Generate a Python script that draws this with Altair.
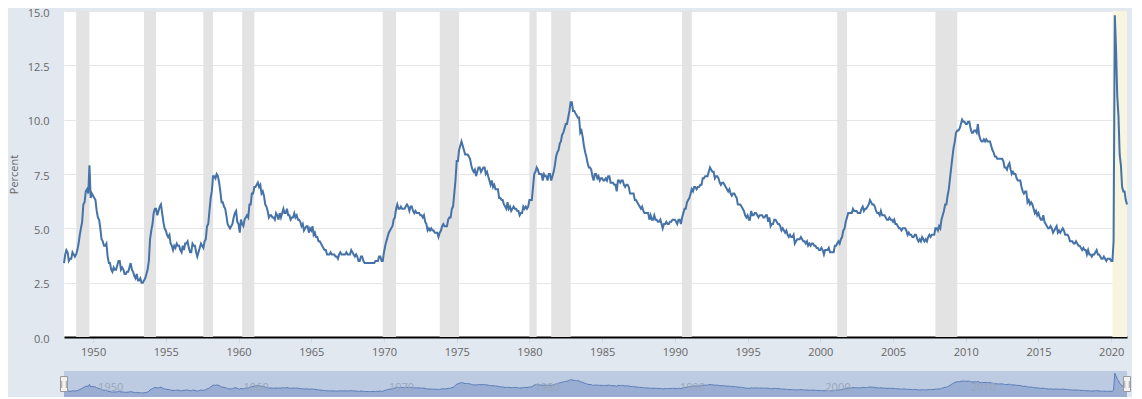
import altair as alt
import pandas as pd

# Monthly unemployment rate (percent), Jan 1948 onward
rate_1948_49 = [
    3.4, 3.8, 4.0, 3.9, 3.5, 3.6, 3.6, 3.9, 3.8, 3.7, 3.8, 4.0,
    4.3, 4.7, 5.0, 5.3, 6.1, 6.2, 6.7, 6.8, 6.6, 7.9, 6.4, 6.6,
]
rate_1950s = [
    6.5, 6.4, 6.3, 5.8, 5.5, 5.4, 5.0, 4.5, 4.4, 4.2, 4.2, 4.3,
    3.7, 3.4, 3.4, 3.1, 3.0, 3.2, 3.1, 3.1, 3.3, 3.5, 3.5, 3.1,
    3.2, 3.1, 2.9, 2.9, 3.0, 3.0, 3.2, 3.4, 3.1, 3.0, 2.8, 2.7,
    2.9, 2.6, 2.6, 2.7, 2.5, 2.5, 2.6, 2.7, 2.9, 3.1, 3.5, 4.5,
    4.9, 5.2, 5.7, 5.9, 5.9, 5.6, 5.8, 6.0, 6.1, 5.7, 5.3, 5.0,
    4.9, 4.7, 4.6, 4.7, 4.3, 4.2, 4.0, 4.2, 4.1, 4.3, 4.2, 4.2,
    4.0, 3.9, 4.2, 4.0, 4.3, 4.3, 4.4, 4.1, 3.9, 3.9, 4.3, 4.2,
    4.2, 3.9, 3.7, 3.9, 4.1, 4.3, 4.2, 4.1, 4.4, 4.5, 5.1, 5.2,
    5.8, 6.4, 6.7, 7.4, 7.4, 7.3, 7.5, 7.4, 7.1, 6.7, 6.2, 6.2,
    6.0, 5.9, 5.6, 5.2, 5.1, 5.0, 5.1, 5.2, 5.5, 5.7, 5.8, 5.3,
]
rate_1960s = [
    5.2, 4.8, 5.4, 5.2, 5.1, 5.4, 5.5, 5.6, 5.5, 6.1, 6.1, 6.6,
    6.6, 6.9, 6.9, 7.0, 7.1, 6.9, 7.0, 6.6, 6.7, 6.5, 6.1, 6.0,
    5.8, 5.5, 5.6, 5.6, 5.5, 5.5, 5.4, 5.7, 5.6, 5.4, 5.7, 5.5,
    5.7, 5.9, 5.7, 5.7, 5.9, 5.6, 5.6, 5.4, 5.5, 5.5, 5.7, 5.5,
    5.6, 5.4, 5.4, 5.3, 5.1, 5.2, 4.9, 5.0, 5.1, 5.1, 4.8, 5.0,
    4.9, 5.1, 4.7, 4.8, 4.6, 4.6, 4.4, 4.4, 4.3, 4.2, 4.1, 4.0,
    4.0, 3.8, 3.8, 3.8, 3.9, 3.8, 3.8, 3.8, 3.7, 3.7, 3.6, 3.8,
    3.9, 3.8, 3.8, 3.8, 3.8, 3.9, 3.8, 3.8, 3.8, 4.0, 3.9, 3.8,
    3.7, 3.8, 3.7, 3.5, 3.5, 3.7, 3.7, 3.5, 3.4, 3.4, 3.4, 3.4,
    3.4, 3.4, 3.4, 3.4, 3.4, 3.5, 3.5, 3.5, 3.7, 3.7, 3.5, 3.5,
]
rate_1970s = [
    3.9, 4.2, 4.4, 4.6, 4.8, 4.9, 5.0, 5.1, 5.4, 5.5, 5.9, 6.1,
    5.9, 5.9, 6.0, 5.9, 5.9, 5.9, 6.0, 6.1, 6.0, 5.8, 6.0, 6.0,
    5.8, 5.7, 5.8, 5.7, 5.7, 5.7, 5.6, 5.6, 5.5, 5.6, 5.3, 5.2,
    4.9, 5.0, 4.9, 5.0, 4.9, 4.9, 4.8, 4.8, 4.8, 4.6, 4.8, 4.9,
    5.1, 5.2, 5.1, 5.1, 5.1, 5.4, 5.5, 5.5, 5.9, 6.0, 6.6, 7.2,
    8.1, 8.1, 8.6, 8.8, 9.0, 8.8, 8.6, 8.4, 8.4, 8.4, 8.3, 8.2,
    7.9, 7.7, 7.6, 7.7, 7.4, 7.6, 7.8, 7.8, 7.6, 7.7, 7.8, 7.8,
    7.5, 7.6, 7.4, 7.2, 7.0, 7.2, 6.9, 7.0, 6.8, 6.8, 6.8, 6.4,
    6.4, 6.3, 6.3, 6.1, 6.0, 5.9, 6.2, 5.9, 6.0, 5.8, 5.9, 6.0,
    5.9, 5.9, 5.8, 5.8, 5.6, 5.7, 5.7, 6.0, 5.9, 6.0, 5.9, 6.0,
]
rate_1980s = [
    6.3, 6.3, 6.3, 6.9, 7.5, 7.6, 7.8, 7.7, 7.5, 7.5, 7.5, 7.2,
    7.5, 7.4, 7.4, 7.2, 7.5, 7.5, 7.2, 7.4, 7.6, 7.9, 8.3, 8.5,
    8.6, 8.9, 9.0, 9.3, 9.4, 9.6, 9.8, 9.8, 10.1, 10.4, 10.8, 10.8,
    10.4, 10.4, 10.3, 10.2, 10.1, 10.1, 9.4, 9.5, 9.2, 8.8, 8.5, 8.3,
    8.0, 7.8, 7.8, 7.7, 7.4, 7.2, 7.5, 7.5, 7.3, 7.4, 7.2, 7.3,
    7.3, 7.2, 7.2, 7.3, 7.2, 7.4, 7.4, 7.1, 7.1, 7.1, 7.0, 7.0,
    6.7, 7.2, 7.2, 7.1, 7.2, 7.2, 7.0, 6.9, 7.0, 7.0, 6.9, 6.6,
    6.6, 6.6, 6.6, 6.3, 6.3, 6.2, 6.1, 6.0, 5.9, 6.0, 5.8, 5.7,
    5.7, 5.7, 5.7, 5.4, 5.6, 5.4, 5.4, 5.6, 5.4, 5.4, 5.3, 5.3,
    5.4, 5.2, 5.0, 5.2, 5.2, 5.3, 5.2, 5.2, 5.3, 5.3, 5.4, 5.4,
]
rate_1990s = [
    5.4, 5.3, 5.2, 5.4, 5.4, 5.2, 5.5, 5.7, 5.9, 5.9, 6.2, 6.3,
    6.4, 6.6, 6.8, 6.7, 6.9, 6.9, 6.8, 6.9, 6.9, 7.0, 7.0, 7.3,
    7.3, 7.4, 7.4, 7.4, 7.6, 7.8, 7.7, 7.6, 7.6, 7.3, 7.4, 7.4,
    7.3, 7.1, 7.0, 7.1, 7.1, 7.0, 6.9, 6.8, 6.7, 6.8, 6.6, 6.5,
    6.6, 6.6, 6.5, 6.4, 6.1, 6.1, 6.1, 6.0, 5.9, 5.8, 5.6, 5.5,
    5.6, 5.4, 5.4, 5.8, 5.6, 5.6, 5.7, 5.7, 5.6, 5.5, 5.6, 5.6,
    5.6, 5.5, 5.5, 5.6, 5.6, 5.3, 5.5, 5.1, 5.2, 5.2, 5.4, 5.4,
    5.3, 5.2, 5.2, 5.1, 4.9, 5.0, 4.9, 4.8, 4.9, 4.7, 4.6, 4.7,
    4.6, 4.6, 4.7, 4.3, 4.4, 4.5, 4.5, 4.5, 4.6, 4.5, 4.4, 4.4,
    4.3, 4.4, 4.2, 4.3, 4.2, 4.3, 4.3, 4.2, 4.2, 4.1, 4.1, 4.0,
]
rate_2000s = [
    4.0, 4.1, 4.0, 3.8, 4.0, 4.0, 4.0, 4.1, 3.9, 3.9, 3.9, 3.9,
    4.2, 4.2, 4.3, 4.4, 4.3, 4.5, 4.6, 4.9, 5.0, 5.3, 5.5, 5.7,
    5.7, 5.7, 5.7, 5.9, 5.8, 5.8, 5.8, 5.7, 5.7, 5.7, 5.9, 6.0,
    5.8, 5.9, 5.9, 6.0, 6.1, 6.3, 6.2, 6.1, 6.1, 6.0, 5.8, 5.7,
    5.7, 5.6, 5.8, 5.6, 5.6, 5.6, 5.5, 5.4, 5.4, 5.5, 5.4, 5.4,
    5.3, 5.4, 5.2, 5.2, 5.1, 5.0, 5.0, 4.9, 5.0, 5.0, 5.0, 4.9,
    4.7, 4.8, 4.7, 4.7, 4.6, 4.6, 4.7, 4.7, 4.5, 4.4, 4.5, 4.4,
    4.6, 4.5, 4.4, 4.5, 4.4, 4.6, 4.7, 4.6, 4.7, 4.7, 4.7, 5.0,
    5.0, 4.9, 5.1, 5.0, 5.4, 5.6, 5.8, 6.1, 6.1, 6.5, 6.8, 7.3,
    7.8, 8.3, 8.7, 9.0, 9.4, 9.5, 9.5, 9.6, 9.8, 10.0, 9.9, 9.9,
]
rate_2010s = [
    9.8, 9.8, 9.9, 9.9, 9.6, 9.4, 9.4, 9.5, 9.5, 9.4, 9.8, 9.3,
    9.1, 9.0, 9.0, 9.1, 9.0, 9.1, 9.0, 9.0, 9.0, 8.8, 8.6, 8.5,
    8.3, 8.3, 8.2, 8.2, 8.2, 8.2, 8.2, 8.1, 7.8, 7.8, 7.7, 7.9,
    8.0, 7.7, 7.5, 7.6, 7.5, 7.5, 7.3, 7.2, 7.2, 7.2, 6.9, 6.7,
    6.6, 6.7, 6.7, 6.2, 6.3, 6.1, 6.2, 6.1, 5.9, 5.7, 5.8, 5.6,
    5.7, 5.5, 5.4, 5.4, 5.6, 5.3, 5.2, 5.1, 5.0, 5.0, 5.1, 5.0,
    4.8, 4.9, 5.0, 5.1, 4.8, 4.9, 4.8, 4.9, 5.0, 4.9, 4.7, 4.7,
    4.7, 4.6, 4.4, 4.4, 4.4, 4.3, 4.3, 4.4, 4.3, 4.2, 4.2, 4.1,
    4.0, 4.1, 4.0, 4.0, 3.8, 4.0, 3.8, 3.8, 3.7, 3.8, 3.8, 3.9,
    4.0, 3.8, 3.8, 3.7, 3.6, 3.6, 3.7, 3.6, 3.5, 3.6, 3.6, 3.6,
]
rate_2020s = [
    3.5, 3.5, 4.4, 14.8, 13.3, 11.1, 10.2, 8.4, 7.9, 6.9, 6.7, 6.7,
    6.3, 6.1,
]

# Recession periods (shaded)
rec_start = ["1948-11-01", "1953-07-01", "1957-08-01", "1960-04-01",
             "1969-12-01", "1973-11-01", "1980-01-01", "1981-07-01",
             "1990-07-01", "2001-03-01", "2007-12-01"]
rec_end = ["1949-10-01", "1954-05-01", "1958-04-01", "1961-02-01",
           "1970-11-01", "1975-03-01", "1980-07-01", "1982-11-01",
           "1991-03-01", "2001-11-01", "2009-06-01"]
cur_start = ["2020-02-01"]
cur_end = ["2021-02-01"]

y_ticks = [0, 2.5, 5, 7.5, 10, 12.5, 15]
x_tick_years = list(range(1950, 2021, 5))
nav_label_years = [1950, 1960, 1970, 1980, 1990, 2000, 2010]

values = (rate_1948_49 + rate_1950s + rate_1960s + rate_1970s + rate_1980s
          + rate_1990s + rate_2000s + rate_2010s + rate_2020s)
dates = pd.date_range("1948-01-01", periods=len(values), freq="MS").strftime("%Y-%m-%d")
df = pd.DataFrame({"date": list(dates), "rate": values})
rec = pd.DataFrame({"start": rec_start, "end": rec_end})
cur = pd.DataFrame({"start": cur_start, "end": cur_end})
handles = pd.DataFrame({"date": [dates[0], dates[-1]], "v": [8.1, 8.1]})
nav_labels = pd.DataFrame({"date": [f"{y}-01-01" for y in nav_label_years],
                           "label": [str(y) for y in nav_label_years],
                           "v": [5.4] * len(nav_label_years)})

x_dom = [alt.DateTime(year=1948, month=1, date=1, utc=True),
         alt.DateTime(year=2021, month=2, date=1, utc=True)]
x_scale = alt.Scale(type="utc", domain=x_dom, nice=False)
y_scale = alt.Scale(domain=[0, 15], nice=False)

x_axis = alt.Axis(
    values=[alt.DateTime(year=y, month=1, date=1, utc=True) for y in x_tick_years],
    format="%Y", formatType="utc", labelColor="#666666", labelFontSize=11,
    tickColor="#ccd6eb", tickSize=5, labelPadding=4,
    domainColor="#000000", domainWidth=2, grid=False, title=None,
)
y_axis = alt.Axis(
    values=y_ticks, format=".1f", grid=True, gridColor="#e6e6e6",
    domain=False, ticks=False, labelPadding=15, labelColor="#666666",
    labelFontSize=11, labelOffset=2, title="Percent", titleFontWeight="normal",
    titleColor="#666666", titleFontSize=11, titlePadding=8,
)

bands = alt.Chart(rec).mark_rect(color="#e3e3e3").encode(
    x=alt.X("start:T", scale=x_scale, axis=x_axis),
    x2="end:T",
)
current = alt.Chart(cur).mark_rect(color="#f7f4df").encode(
    x=alt.X("start:T", scale=x_scale),
    x2="end:T",
)
line = alt.Chart(df).mark_line(color="#4572a7", strokeWidth=2).encode(
    x=alt.X("date:T", scale=x_scale),
    y=alt.Y("rate:Q", scale=y_scale, axis=y_axis),
)
main = alt.layer(bands, current, line).properties(
    width=1063, height=326,
    view=alt.ViewBackground(fill="white", stroke=None),
)

nav_y = alt.Scale(domain=[0, 16.25], nice=False)
nav_area = alt.Chart(df).mark_area(
    color="#8ba3cf", line={"color": "#5a7db5", "strokeWidth": 1}
).encode(
    x=alt.X("date:T", scale=x_scale, axis=None),
    y=alt.Y("rate:Q", scale=nav_y, axis=None),
)
nav_text = alt.Chart(nav_labels).mark_text(
    align="left", baseline="middle", dx=5, fontSize=11, color="#9ba6b8"
).encode(
    x=alt.X("date:T", scale=x_scale, axis=None),
    y=alt.Y("v:Q", scale=nav_y, axis=None),
    text="label:N",
)
nav_handle = alt.Chart(handles).mark_rect(
    width=7, height=15, fill="#f2f2f2", stroke="#999999", strokeWidth=1
).encode(
    x=alt.X("date:T", scale=x_scale, axis=None),
    y=alt.Y("v:Q", scale=nav_y, axis=None),
)
nav_grip = alt.Chart(handles).mark_text(
    text="||", fontSize=8, color="#666666", baseline="middle"
).encode(
    x=alt.X("date:T", scale=x_scale, axis=None),
    y=alt.Y("v:Q", scale=nav_y, axis=None),
)
nav = alt.layer(nav_area, nav_text, nav_handle, nav_grip).properties(
    width=1063, height=26,
    view=alt.ViewBackground(fill="#bccae2", stroke=None),
)

chart = alt.vconcat(main, nav, spacing=14).properties(
    background="#e1e8f0",
    padding={"left": 0, "top": -1, "right": 0, "bottom": 0},
).configure(font="Open Sans").configure_view(stroke=None)

chart.save("out.html", embed_options={"renderer": "svg", "actions": False})
